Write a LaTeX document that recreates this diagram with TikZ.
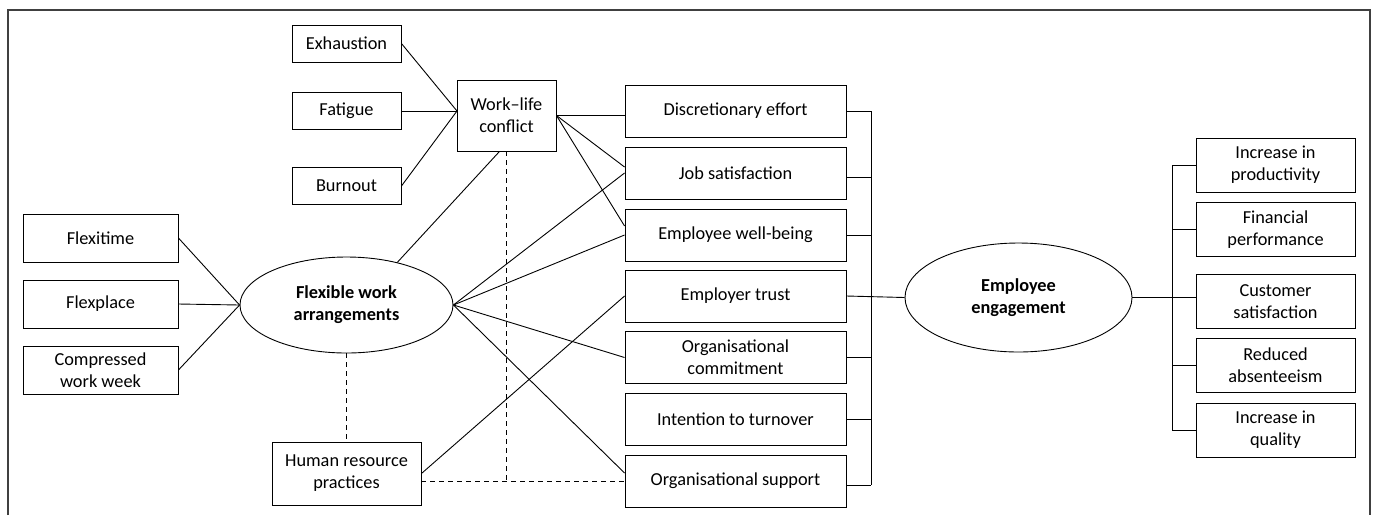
\documentclass[tikz,border=0pt]{standalone}
\usepackage{fontspec}
\setmainfont{Carlito}
\usetikzlibrary{shapes.geometric,calc}
\tikzset{
  box/.style={draw, line width=0.9pt, inner sep=0pt, align=center, font=\fontsize{18.3}{22}\selectfont},
  oval/.style={draw, ellipse, line width=0.9pt, inner sep=0pt, align=center, font=\fontsize{18.3}{22}\selectfont\bfseries},
  link/.style={line width=0.9pt},
  dlink/.style={line width=0.9pt, dash pattern=on 5pt off 4pt},
  frame/.style={line width=1.2pt, draw=black!75}
}
\begin{document}
\begin{tikzpicture}[x=1pt,y=-1pt]
\useasboundingbox (0,0) rectangle (1375,515);
\coordinate (f1) at (8,515);
\coordinate (f2) at (8,10);
\coordinate (f3) at (1370,10);
\coordinate (f4) at (1370,515);
\draw[frame] (f1) -- (f2) -- (f3) -- (f4);

% left inputs
\node[box, minimum width=109pt, minimum height=37pt] (exh) at (346.5,43.5) {Exhaustion};
\node[box, minimum width=109pt, minimum height=37pt] (fat) at (346.5,111) {Fatigue};
\node[box, minimum width=109pt, minimum height=37pt] (bur) at (346.5,186) {Burnout};
\node[box, minimum width=155pt, minimum height=48pt] (fxt) at (100.5,238) {Flexitime};
\node[box, minimum width=155pt, minimum height=48pt] (fxp) at (100.5,304) {Flexplace};
\node[box, minimum width=155pt, minimum height=48pt] (cww) at (100.5,370) {Compressed\\work week};
\node[oval, minimum width=213pt, minimum height=96pt] (fwa) at (346.5,305) {Flexible work\\arrangements};
\node[box, minimum width=149pt, minimum height=63pt] (hrp) at (346.5,473.5) {Human resource\\practices};
\node[box, minimum width=99pt, minimum height=71pt] (wlc) at (506.5,115.5) {Work–life\\conflict};

% middle column
\node[box, minimum width=221pt, minimum height=52pt] (dis) at (735.5,111) {Discretionary effort};
\node[box, minimum width=221pt, minimum height=52pt] (js) at (735.5,173) {Job satisfaction};
\node[box, minimum width=221pt, minimum height=52pt] (wb) at (735.5,235) {Employee well-being};
\node[box, minimum width=221pt, minimum height=52pt] (tr) at (735.5,296) {Employer trust};
\node[box, minimum width=221pt, minimum height=52pt] (oc) at (735.5,357.5) {Organisational\\commitment};
\node[box, minimum width=221pt, minimum height=52pt] (it) at (735.5,419) {Intention to turnover};
\node[box, minimum width=221pt, minimum height=52pt] (os) at (735.5,481) {Organisational support};

% engagement and outcomes
\node[oval, minimum width=227pt, minimum height=109pt] (ee) at (1018.5,297.5) {Employee\\engagement};
\node[box, minimum width=159pt, minimum height=54pt] (pr) at (1275.5,165) {Increase in\\productivity};
\node[box, minimum width=159pt, minimum height=54pt] (fp) at (1275.5,229.5) {Financial\\performance};
\node[box, minimum width=159pt, minimum height=54pt] (cs) at (1275.5,301.5) {Customer\\satisfaction};
\node[box, minimum width=159pt, minimum height=54pt] (ra) at (1275.5,365.5) {Reduced\\absenteeism};
\node[box, minimum width=159pt, minimum height=54pt] (iq) at (1275.5,430) {Increase in\\quality};

% coordinates
\coordinate (wlcin) at (457,111);
\coordinate (bustop) at (871,111);
\coordinate (busbot) at (871,485);
\coordinate (rbtop) at (1172,165);
\coordinate (rbbot) at (1172,430);

% solid links
\draw[link] (exh.east) -- (wlcin);
\draw[link] (fat.east) -- (wlcin);
\draw[link] (bur.east) -- (wlcin);
\draw[link] (fxt.east) -- (fwa.west);
\draw[link] (fxp.east) -- (fwa.west);
\draw[link] (cww.east) -- (fwa.west);
\draw[link] (fwa.40) -- ($(wlc.south)+(-7,0)$);
\draw[link] (wlc.east) -- (dis.west |- wlc.east);
\draw[link] (wlc.east) -- ($(js.west)+(0,-6)$);
\draw[link] (wlc.east) -- ($(wb.west)+(0,-9)$);
\draw[link] (fwa.east) -- (js.west);
\draw[link] (fwa.east) -- (wb.west);
\draw[link] (fwa.east) -- (oc.west);
\draw[link] (fwa.east) -- ($(os.west)+(0,-8)$);
\draw[link] (hrp.east) -- (tr.west);

% dashed links
\draw[dlink] (fwa.south) -- (hrp.north);
\draw[dlink] (hrp.east |- os.west) -- (os.west);
\draw[dlink] (wlc.south) -- (wlc.south |- os.west);

% bus to engagement
\draw[link] (bustop) -- (busbot);
\draw[link] (dis.east) -- (dis.east -| bustop);
\draw[link] ($(js.east)+(0,4)$) -- ($(js.east -| bustop)+(0,4)$);
\draw[link] (wb.east) -- (wb.east -| bustop);
\draw[link] (oc.east) -- (oc.east -| bustop);
\draw[link] (it.east) -- (it.east -| bustop);
\draw[link] ($(os.east)+(0,4)$) -- (busbot);
\draw[link] (tr.east) -- (ee.west);

% outcomes bus
\draw[link] (rbtop) -- (rbbot);
\draw[link] (ee.east) -- (cs.west |- ee.east);
\draw[link] (pr.west) -- (rbtop);
\draw[link] (fp.west) -- (fp.west -| rbtop);
\draw[link] (ra.west) -- (ra.west -| rbtop);
\draw[link] (iq.west) -- (rbbot);
\end{tikzpicture}
\end{document}
